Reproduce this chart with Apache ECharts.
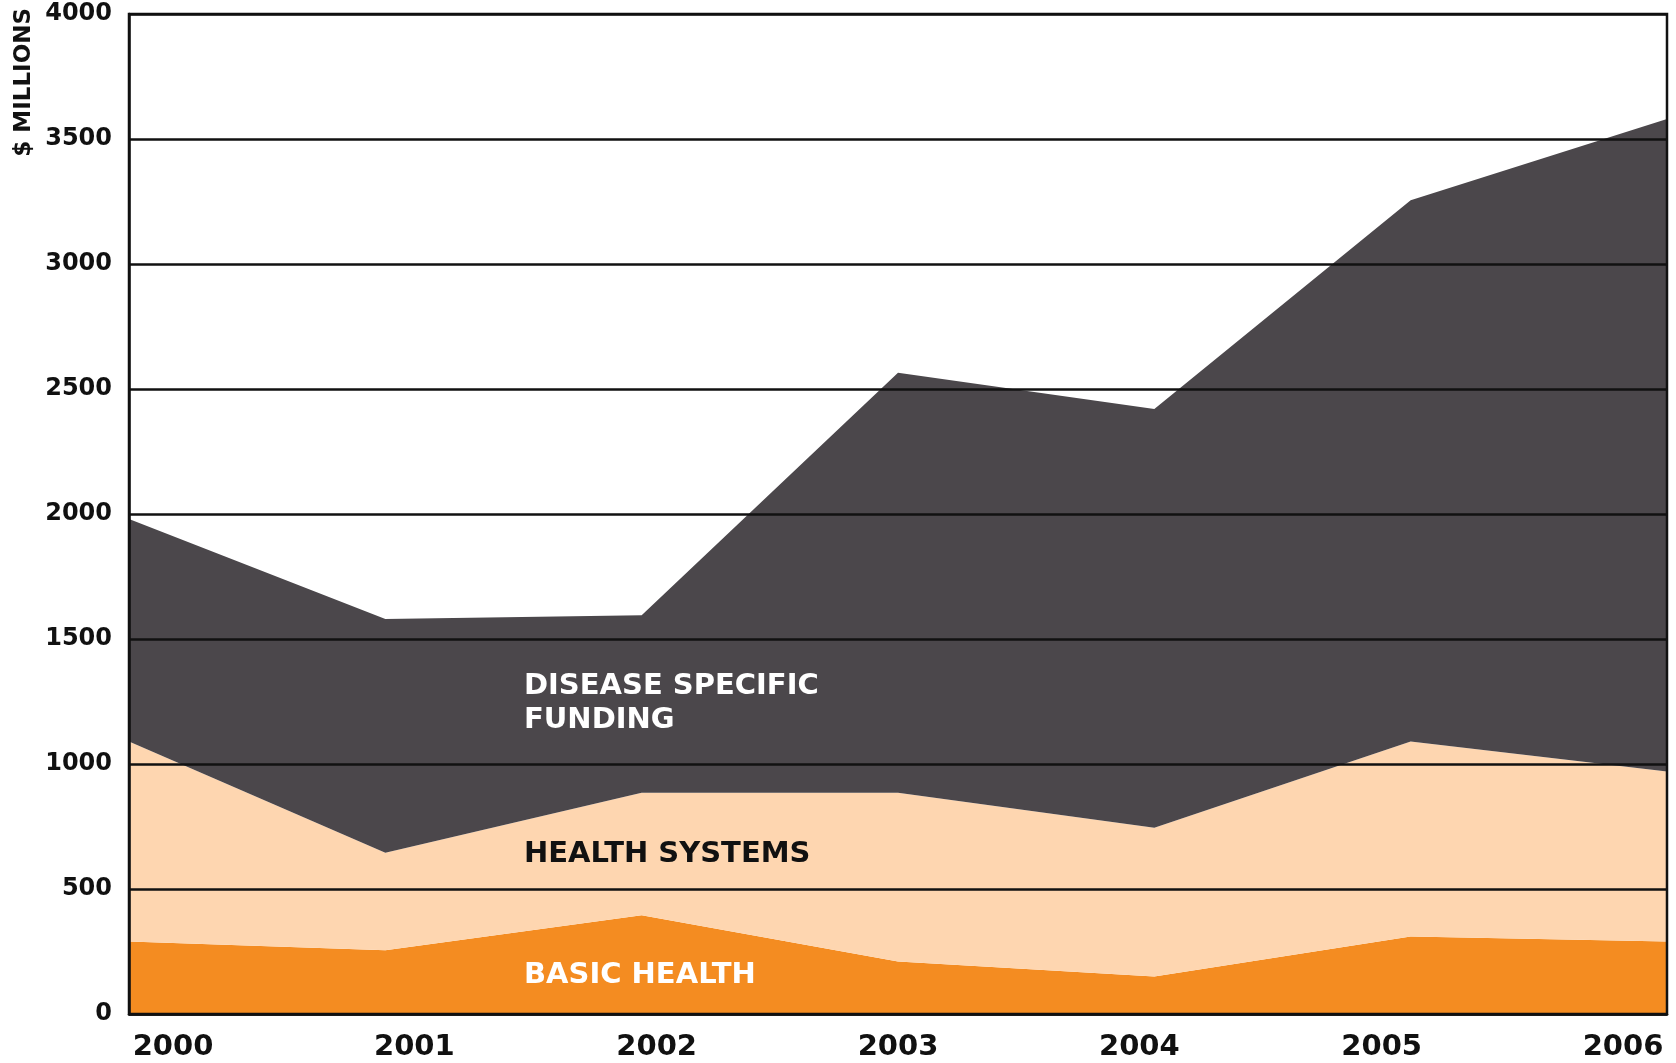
<!DOCTYPE html>
<html>
<head>
<meta charset="utf-8">
<script src="https://cdn.jsdelivr.net/npm/echarts@6/dist/echarts.min.js"></script>
<style>
    html, body {margin: 0; padding: 0; background: #fff;}
    #main {width: 1676px; height: 1063px;}
</style>
</head>
<body>
<div id="main"></div>
<script>
// years on the x axis
var years = ['2000', '2001', '2002', '2003', '2004', '2005', '2006'];
// $ millions, stacked bottom to top
var basicHealth = [290, 255, 395, 210, 150, 310, 290];
var healthSystems = [800, 390, 490, 675, 595, 780, 680];
var diseaseSpecific = [890, 935, 710, 1680, 1675, 2165, 2610];
var yTicks = [0, 4000, 500];

var FONT = 'DejaVu Sans';

// shift each year label so 2000 starts at the left edge and 2006 ends at the right edge
var labelShift = [44, 29, 15, 0, -15, -29, -44];
var richLabels = {};
for (var i = 0; i < labelShift.length; i++) {
    var s = labelShift[i];
    richLabels['y' + i] = {
        fontFamily: FONT, fontWeight: 'bold', fontSize: 29, color: '#111',
        padding: s >= 0 ? [0, 0, 0, 2 * s] : [0, -2 * s, 0, 0]
    };
}

var chart = echarts.init(document.getElementById('main'));

function areaSeries(name, data, color) {
    return {
        name: name,
        type: 'line',
        stack: 'total',
        data: data,
        symbol: 'none',
        smooth: false,
        z: 1,
        lineStyle: {width: 0},
        areaStyle: {color: color, opacity: 1}
    };
}

var option = {
    animation: false,
    backgroundColor: '#fff',
    grid: {
        left: 129, right: 9, top: 14, bottom: 49,
        show: true, borderColor: '#111', borderWidth: 2.5, z: 10,
        backgroundColor: 'transparent'
    },
    xAxis: {
        type: 'category',
        data: years,
        boundaryGap: false,
        z: 10,
        axisLine: {lineStyle: {color: '#111', width: 2.5}},
        axisTick: {show: false},
        axisLabel: {
            margin: 19,
            rich: richLabels,
            formatter: function (v, idx) {
                return '{y' + idx + '|' + v + '}';
            }
        },
        splitLine: {show: false}
    },
    yAxis: {
        type: 'value',
        min: yTicks[0],
        max: yTicks[1],
        interval: yTicks[2],
        z: 10,
        axisLine: {show: true, lineStyle: {color: '#111', width: 2.5}},
        axisTick: {show: false},
        axisLabel: {
            margin: 17,
            padding: [6, 0, 0, 0],
            fontFamily: FONT, fontWeight: 'bold', fontSize: 24, color: '#111',
            formatter: function (v) { return String(v); }
        },
        splitLine: {lineStyle: {color: '#111', width: 2.5}}
    },
    series: [
        areaSeries('Basic Health', basicHealth, '#f48c21'),
        areaSeries('Health Systems', healthSystems, '#fed6b0'),
        areaSeries('Disease Specific Funding', diseaseSpecific, '#4b474b')
    ],
    graphic: [
        {
            type: 'text', x: 24, y: 8, rotation: Math.PI / 2,
            style: {
                text: '$ MILLIONS', align: 'right', verticalAlign: 'middle',
                fontFamily: FONT, fontWeight: 'bold', fontSize: 23, fill: '#111'
            }
        },
        {
            type: 'text', left: 524, top: 669, z: 20,
            style: {
                text: 'DISEASE SPECIFIC\nFUNDING', lineHeight: 34,
                fontFamily: FONT, fontWeight: 'bold', fontSize: 29, fill: '#fff'
            }
        },
        {
            type: 'text', left: 524, top: 840, z: 20,
            style: {
                text: 'HEALTH SYSTEMS',
                fontFamily: FONT, fontWeight: 'bold', fontSize: 29, fill: '#111'
            }
        },
        {
            type: 'text', left: 524, top: 961, z: 20,
            style: {
                text: 'BASIC HEALTH',
                fontFamily: FONT, fontWeight: 'bold', fontSize: 29, fill: '#fff'
            }
        }
    ]
};

chart.setOption(option);
</script>
</body>
</html>
